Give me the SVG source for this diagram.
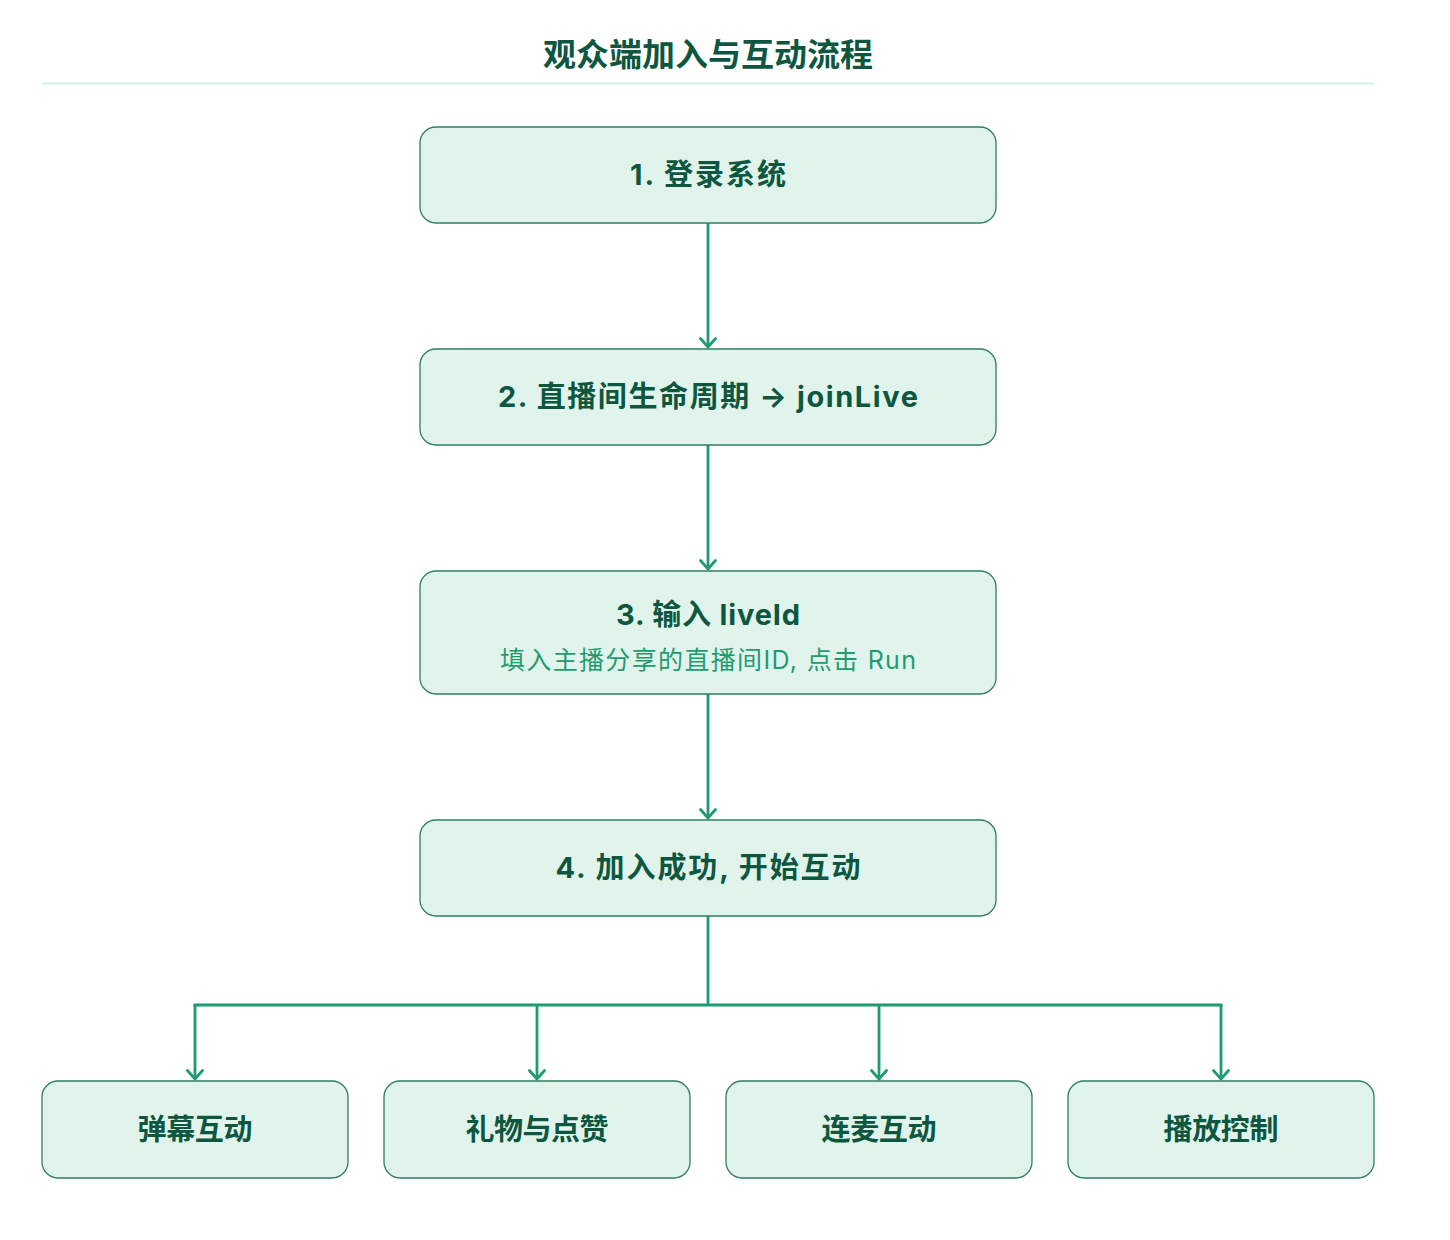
<svg xmlns="http://www.w3.org/2000/svg" width="1450" height="1240" viewBox="0 0 1450 1240">
<style>
.bg{fill:#ffffff}
.node{fill:#e1f4ec;stroke:#2f7d5e;stroke-width:1.3}
.t{font-family:"Inter","Noto Sans CJK SC",sans-serif;font-weight:700;font-size:29px;fill:#0d5740;text-anchor:middle}
.s{font-family:"Inter","Noto Sans CJK SC",sans-serif;font-weight:400;font-size:25px;fill:#1f9b70;text-anchor:middle}
.title{font-family:"Noto Sans CJK SC",sans-serif;font-weight:700;font-size:32px;fill:#0d5740;text-anchor:middle}
.c{fill:none;stroke:#1f9b70;stroke-width:2.8}
</style>
<defs>
<marker id="arr" viewBox="0 0 12 18" refX="10" refY="9" markerWidth="12" markerHeight="18" markerUnits="userSpaceOnUse" orient="auto">
<path d="M1.5,1.5 L10,9 L1.5,16.5" fill="none" stroke="#1f9b70" stroke-width="2.8" stroke-linecap="round" stroke-linejoin="round"/>
</marker>
</defs>
<rect class="bg" x="0" y="0" width="1450" height="1240"/>
<g id="title">
<text class="title" x="708" y="66" textLength="330" lengthAdjust="spacingAndGlyphs">观众端加入与互动流程</text>
<line x1="42" y1="83.5" x2="1374" y2="83.5" stroke="#c8ebdf" stroke-width="1.5"/>
</g>
<g id="connectors">
<line class="c" x1="708" y1="223" x2="708" y2="347" marker-end="url(#arr)"/>
<line class="c" x1="708" y1="445" x2="708" y2="569" marker-end="url(#arr)"/>
<line class="c" x1="708" y1="694" x2="708" y2="818" marker-end="url(#arr)"/>
<polyline class="c" points="708,916 708,1005"/>
<line class="c" x1="193.6" y1="1005" x2="1222.4" y2="1005"/>
<line class="c" x1="195" y1="1005" x2="195" y2="1079" marker-end="url(#arr)"/>
<line class="c" x1="537" y1="1005" x2="537" y2="1079" marker-end="url(#arr)"/>
<line class="c" x1="879" y1="1005" x2="879" y2="1079" marker-end="url(#arr)"/>
<line class="c" x1="1221" y1="1005" x2="1221" y2="1079" marker-end="url(#arr)"/>
</g>
<g id="n1">
<rect class="node" x="420" y="127" width="576" height="96" rx="16"/>
<text class="t" x="708" y="185" textLength="156">1. 登录系统</text>
</g>
<g id="n2">
<rect class="node" x="420" y="349" width="576" height="96" rx="16"/>
<text class="t" x="708" y="407" textLength="420">2. 直播间生命周期 → joinLive</text>
</g>
<g id="n3">
<rect class="node" x="420" y="571" width="576" height="123" rx="16"/>
<text class="t" x="708" y="625" textLength="184">3. 输入 liveId</text>
<text class="s" x="708" y="669" textLength="416">填入主播分享的直播间ID, 点击 Run</text>
</g>
<g id="n4">
<rect class="node" x="420" y="820" width="576" height="96" rx="16"/>
<text class="t" x="708" y="878" textLength="305">4. 加入成功, 开始互动</text>
</g>
<g id="b1">
<rect class="node" x="42" y="1081" width="306" height="97" rx="16"/>
<text class="t" x="195" y="1140" textLength="115">弹幕互动</text>
</g>
<g id="b2">
<rect class="node" x="384" y="1081" width="306" height="97" rx="16"/>
<text class="t" x="537" y="1140" textLength="143">礼物与点赞</text>
</g>
<g id="b3">
<rect class="node" x="726" y="1081" width="306" height="97" rx="16"/>
<text class="t" x="879" y="1140" textLength="115">连麦互动</text>
</g>
<g id="b4">
<rect class="node" x="1068" y="1081" width="306" height="97" rx="16"/>
<text class="t" x="1221" y="1140" textLength="115">播放控制</text>
</g>
</svg>
